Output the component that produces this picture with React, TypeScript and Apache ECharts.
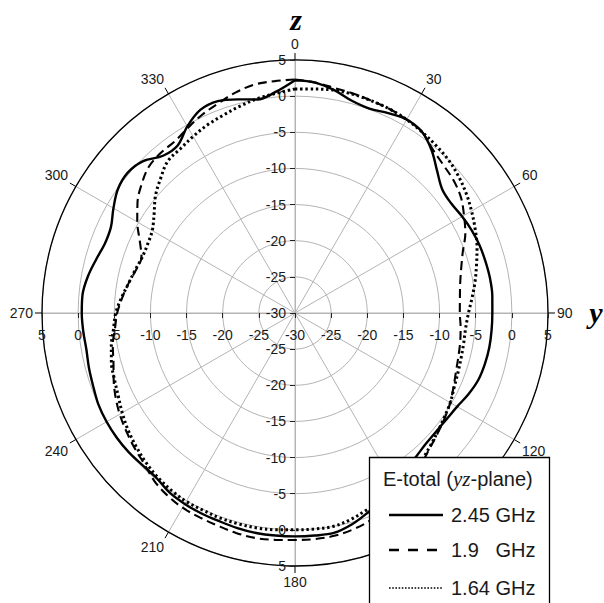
import React, { useEffect, useRef } from 'react';
import * as echarts from 'echarts';

// Angle (degrees, clockwise from +z)
const angles = [
  0, 5, 10, 15, 20, 25, 30, 35, 40, 45, 50, 55,
  60, 65, 70, 75, 80, 85, 90, 95, 100, 105, 110, 115,
  120, 125, 130, 135, 140, 145, 150, 155, 160, 165, 170, 175,
  180, 185, 190, 195, 200, 205, 210, 215, 220, 225, 230, 235,
  240, 245, 250, 255, 260, 265, 270, 275, 280, 285, 290, 295,
  300, 305, 310, 315, 320, 325, 330, 335, 340, 345, 350, 355,
];

// E-total (dB) at 2.45 GHz
const ghz245 = [
  2.2, 2.0, 1.3, 0.4, 0.1, 0.5, 0.9, 0.6, -0.6, -2.2, -3.4, -3.6,
  -3.3, -3.0, -2.8, -2.7, -2.6, -2.6, -2.7, -2.7, -2.7, -2.8, -3.0, -3.5,
  -4.1, -4.4, -4.5, -4.4, -4.0, -3.4, -2.5, -1.5, -0.6, 0.3, 0.9, 0.9,
  0.9, 0.9, 0.9, 0.8, 0.65, 0.6, 0.5, 0.3, -0.2, -0.2, 0.0, 0.1,
  0.1, 0.0, -0.3, -0.5, -0.7, -0.6, -0.5, -0.5, -0.9, -1.5, -2.0, -1.9,
  -1.0, -0.1, 0.2, -0.3, -1.6, -1.7, -0.2, 1.0, 1.2, 0.6, 0.0, 0.7,
];

// E-total (dB) at 1.9 GHz
const ghz19 = [
  2.3, 2.0, 1.6, 1.4, 1.2, 1.1, 0.9, 0.6, -0.4, -1.0, -1.4, -2.0,
  -3.0, -4.0, -5.3, -6.2, -6.8, -7.1, -7.2, -7.0, -6.8, -6.6, -6.3, -5.8,
  -5.2, -4.7, -4.2, -3.6, -2.8, -2.0, -1.2, -0.4, 0.5, 1.0, 1.3, 1.4,
  1.4, 1.5, 1.6, 1.5, 1.3, 1.2, 1.1, 0.8, 0.3, -0.5, -1.0, -1.5,
  -2.0, -2.6, -3.3, -4.0, -4.4, -5.0, -5.4, -6.0, -6.6, -7.2, -7.4, -6.3,
  -4.8, -3.4, -2.3, -1.4, -1.1, -1.0, -0.4, 0.3, 0.9, 1.6, 2.1, 2.2,
];

// E-total (dB) at 1.64 GHz
const ghz164 = [
  1.0, 1.1, 1.3, 1.3, 1.2, 1.1, 0.9, 0.6, 0.3, 0.0, -0.5, -1.1,
  -1.8, -2.5, -3.2, -4.0, -4.7, -5.4, -6.0, -6.3, -6.3, -6.2, -6.0, -5.7,
  -5.2, -4.8, -4.3, -3.7, -3.0, -2.3, -1.7, -1.3, -1.0, -0.4, 0.0, 0.0,
  0.0, 0.1, 0.2, 0.2, 0.2, 0.1, 0.1, -0.1, -0.4, -0.8, -1.3, -1.8,
  -2.4, -3.0, -3.4, -3.7, -4.2, -4.8, -5.2, -5.9, -6.6, -7.1, -7.5, -7.5,
  -7.2, -6.2, -4.8, -3.7, -2.6, -2.3, -1.8, -1.3, -0.9, -0.4, 0.1, 0.5,
];

const seriesNames = ['2.45 GHz', '1.9   GHz', '1.64 GHz'];
const legendTitle = ['E-total (', 'yz', '-plane)'];

const FONT = "'Liberation Sans', Arial, sans-serif";
const SERIF = "'Liberation Serif', 'Times New Roman', serif";
const GRID = '#b4b4b4';
const TXT = '#1a1a1a';

function closed(vals: number[]) {
  const d = angles.map((a, i) => [vals[i], a]);
  d.push([vals[0], 360]);
  return d;
}

export default function App() {
  const ref = useRef<HTMLDivElement>(null);
  useEffect(() => {
    if (!ref.current) return;
    const chart = echarts.init(ref.current, undefined, { renderer: 'svg' });
    const center = [295, 313];
    const radius = 253;
    const labelBase = { fontSize: 14, color: TXT, fontFamily: FONT };
    const option: any = {
      animation: false,
      backgroundColor: '#fff',
      textStyle: { fontFamily: FONT },
      polar: [0, 1, 2, 3].map(() => ({ center, radius })),
      angleAxis: [
        {
          polarIndex: 0, type: 'value', min: 0, max: 360, interval: 30,
          startAngle: 90, clockwise: true,
          axisLine: { show: true, lineStyle: { color: '#000', width: 1.3 } },
          axisTick: { show: true, length: 7, lineStyle: { color: '#000', width: 1 } },
          axisLabel: { ...labelBase, margin: 9, formatter: (v: number) => (v === 360 ? '' : String(v)) },
          splitLine: { show: true, lineStyle: { color: GRID, width: 1 } },
        },
        { polarIndex: 1, type: 'value', min: 0, max: 360, startAngle: 0, clockwise: true, show: false },
        { polarIndex: 2, type: 'value', min: 0, max: 360, startAngle: 180, clockwise: true, show: false },
        { polarIndex: 3, type: 'value', min: 0, max: 360, startAngle: 270, clockwise: true, show: false },
      ],
      radiusAxis: [
        {
          polarIndex: 0, type: 'value', min: -30, max: 5, interval: 5,
          axisLine: { lineStyle: { color: GRID, width: 1 } },
          axisTick: { show: true, length: 5, lineStyle: { color: '#222' } },
          axisLabel: { ...labelBase, margin: 9 },
          splitLine: { show: true, lineStyle: { color: GRID, width: 1 } },
        },
        {
          polarIndex: 1, type: 'value', min: -30, max: 5, interval: 5,
          axisLine: { lineStyle: { color: GRID, width: 1 } },
          axisTick: { show: true, length: -5, lineStyle: { color: '#222' } },
          axisLabel: { ...labelBase, margin: -15, verticalAlign: 'top', showMinLabel: false },
          splitLine: { show: false },
        },
        {
          polarIndex: 2, type: 'value', min: -30, max: 5, interval: 5,
          axisLine: { lineStyle: { color: GRID, width: 1 } },
          axisTick: { show: true, length: 5, lineStyle: { color: '#222' } },
          axisLabel: { ...labelBase, margin: 15, verticalAlign: 'top' },
          splitLine: { show: false },
        },
        {
          polarIndex: 3, type: 'value', min: -30, max: 5, interval: 5,
          axisLine: { lineStyle: { color: GRID, width: 1 } },
          axisTick: { show: true, length: -5, lineStyle: { color: '#222' } },
          axisLabel: { ...labelBase, margin: -9, align: 'right', showMinLabel: false },
          splitLine: { show: false },
        },
      ],
      series: [
        {
          name: seriesNames[2], type: 'line', coordinateSystem: 'polar', polarIndex: 0,
          data: closed(ghz164), smooth: 0.35, symbol: 'none', z: 3,
          lineStyle: { color: '#000', width: 3, type: [2.4, 2.8] },
        },
        {
          name: seriesNames[1], type: 'line', coordinateSystem: 'polar', polarIndex: 0,
          data: closed(ghz19), smooth: 0.35, symbol: 'none', z: 4,
          lineStyle: { color: '#000', width: 2.1, type: [9, 5] },
        },
        {
          name: seriesNames[0], type: 'line', coordinateSystem: 'polar', polarIndex: 0,
          data: closed(ghz245), smooth: 0.35, symbol: 'none', z: 5,
          lineStyle: { color: '#000', width: 2.4, type: 'solid' },
        },
      ],
      graphic: [
        {
          type: 'text', x: 296, y: 19, z: 50,
          style: { text: 'z', fontSize: 30, fontWeight: 'bold', fontStyle: 'italic', fontFamily: SERIF, fill: '#000', align: 'center', verticalAlign: 'middle' },
        },
        {
          type: 'text', x: 596, y: 312, z: 50,
          style: { text: 'y', fontSize: 30, fontWeight: 'bold', fontStyle: 'italic', fontFamily: SERIF, fill: '#000', align: 'center', verticalAlign: 'middle' },
        },
        {
          type: 'rect', z: 100,
          shape: { x: 369.5, y: 457.5, width: 180, height: 170 },
          style: { fill: '#fff', stroke: '#000', lineWidth: 1.3 },
        },
        {
          type: 'text', x: 383, y: 479, z: 101,
          style: {
            text: `{a|${legendTitle[0]}}{b|${legendTitle[1]}}{a|${legendTitle[2]}}`,
            verticalAlign: 'middle',
            rich: {
              a: { fontSize: 20, fontFamily: FONT, fill: TXT, color: TXT },
              b: { fontSize: 21, fontFamily: SERIF, fontStyle: 'italic', fill: TXT, color: TXT },
            },
          },
        },
        {
          type: 'line', z: 101,
          shape: { x1: 389, y1: 515, x2: 443, y2: 515 },
          style: { stroke: '#000', lineWidth: 2.6 },
        },
        {
          type: 'line', z: 101,
          shape: { x1: 389, y1: 550, x2: 446, y2: 550 },
          style: { stroke: '#000', lineWidth: 2.6, lineDash: [10, 9] },
        },
        {
          type: 'line', z: 101,
          shape: { x1: 389, y1: 588, x2: 443, y2: 588 },
          style: { stroke: '#000', lineWidth: 1.6, lineDash: [1.6, 1.6] },
        },
        {
          type: 'text', x: 451, y: 515, z: 101,
          style: { text: seriesNames[0], fontSize: 20, fontFamily: FONT, fill: TXT, verticalAlign: 'middle' },
        },
        {
          type: 'text', x: 451, y: 550, z: 101,
          style: { text: seriesNames[1], fontSize: 20, fontFamily: FONT, fill: TXT, verticalAlign: 'middle' },
        },
        {
          type: 'text', x: 451, y: 588, z: 101,
          style: { text: seriesNames[2], fontSize: 20, fontFamily: FONT, fill: TXT, verticalAlign: 'middle' },
        },
      ],
    };
    chart.setOption(option);
    return () => chart.dispose();
  }, []);
  return (
    <div
      ref={ref}
      style={{ position: 'absolute', left: 0, top: 0, width: 604, height: 603, background: '#fff' }}
    />
  );
}
